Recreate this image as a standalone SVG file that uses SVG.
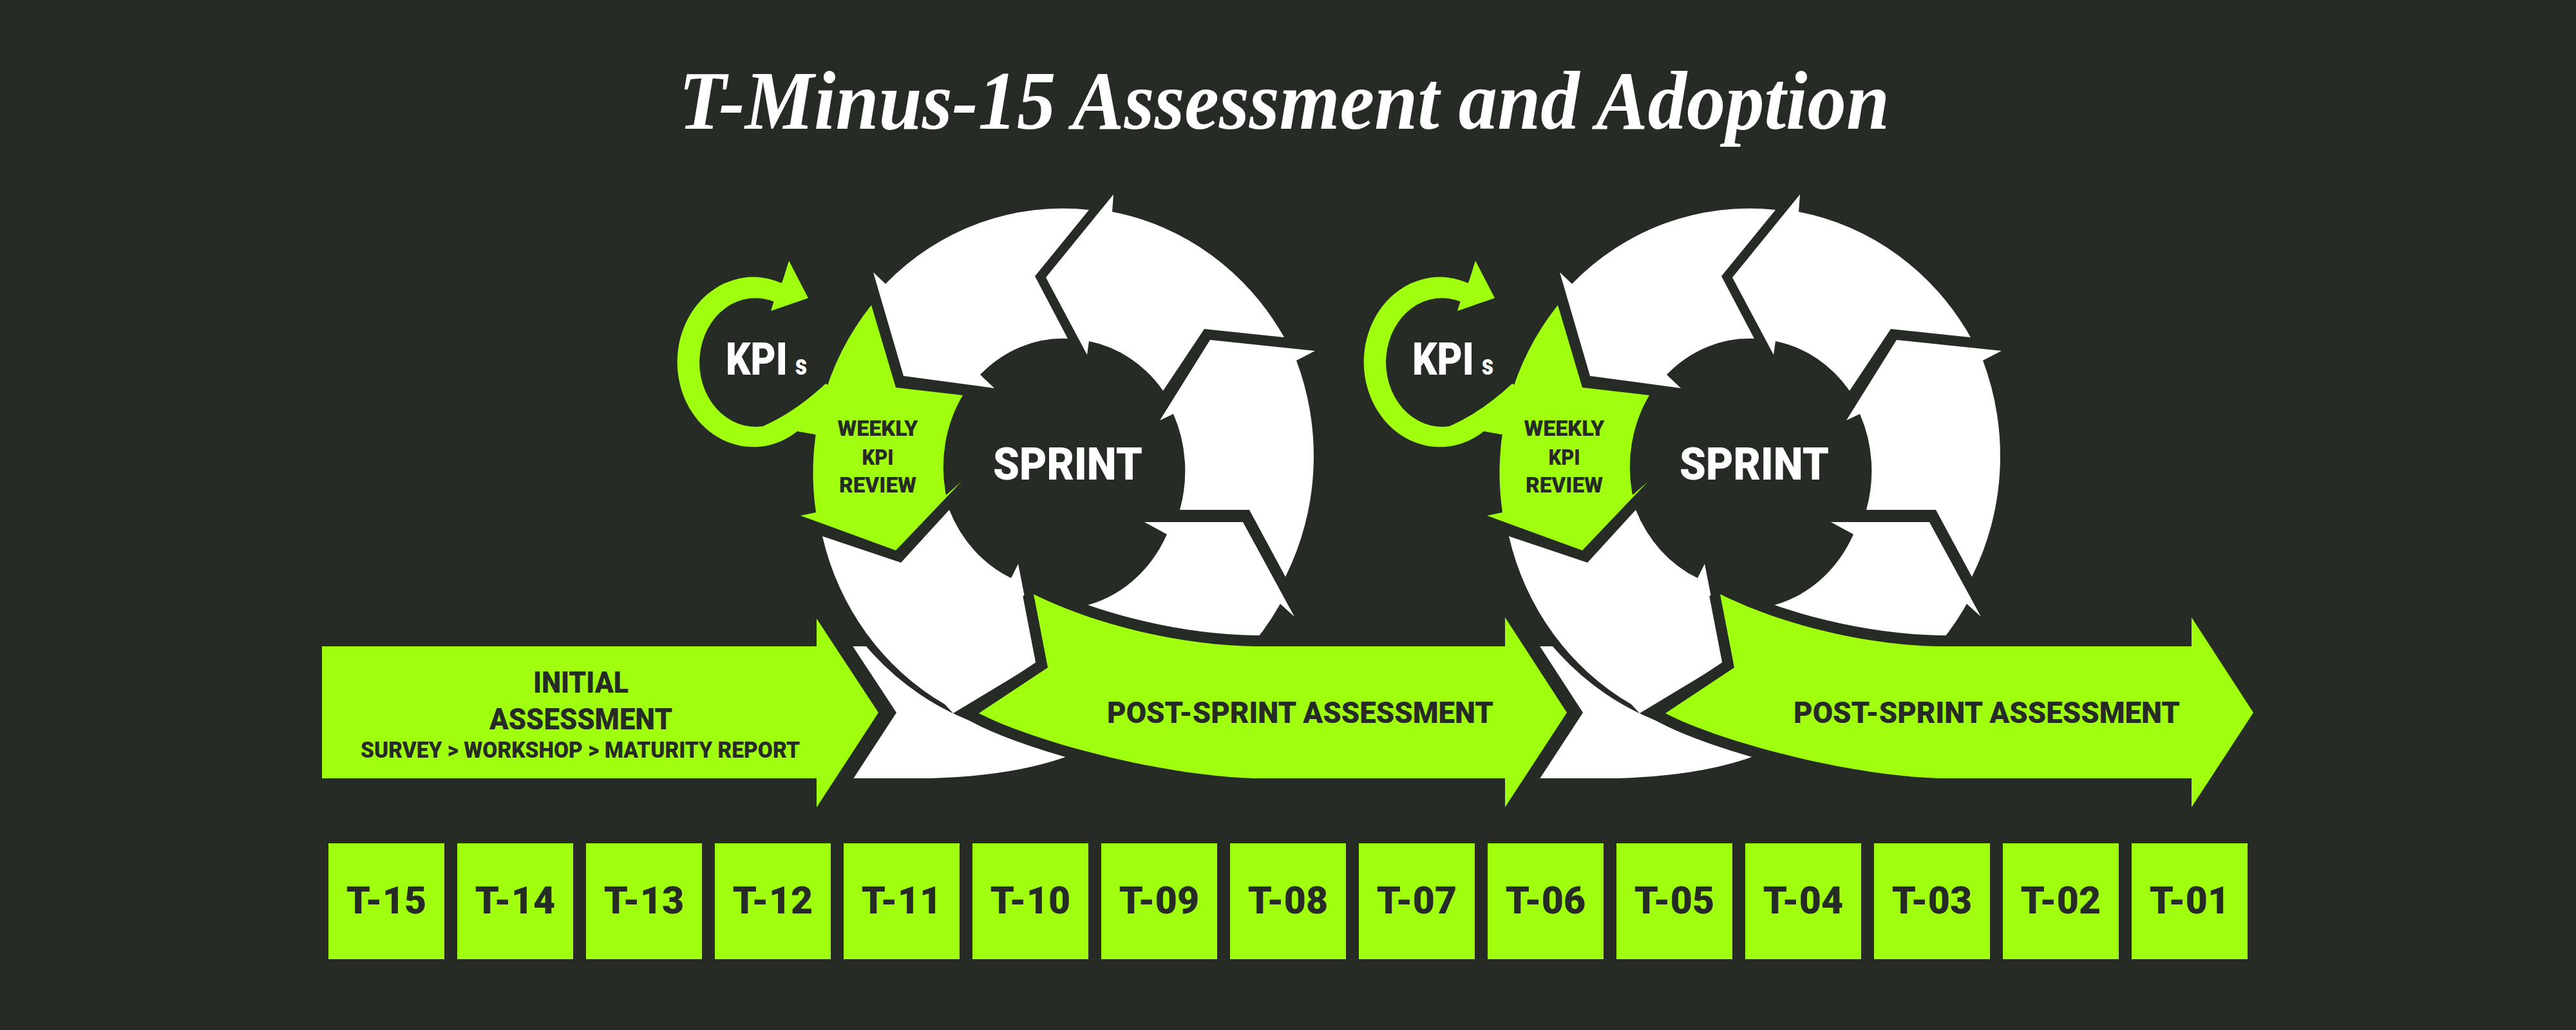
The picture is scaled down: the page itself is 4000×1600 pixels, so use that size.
<svg xmlns="http://www.w3.org/2000/svg" width="4000" height="1600" viewBox="0 0 4000 1600">
<defs>
<style>
.w{fill:#ffffff}
.g{fill:#a0ff0e}
.d{fill:#272b26}
.out{fill:#a0ff0e;stroke:#272b26;stroke-width:34;stroke-linejoin:miter;stroke-miterlimit:2;paint-order:stroke}
.f{font-family:Roboto,"Liberation Sans",Arial,sans-serif;font-weight:900}
.wt{fill:#ffffff}
.dt{fill:#272b26}
.title{font-family:"Liberation Serif","DejaVu Serif",serif;font-style:italic;font-weight:bold;fill:#ffffff}
.bx{font-size:59px;text-anchor:middle}
</style>
</defs>
<rect class="d" x="0" y="0" width="4000" height="1600"/>
<g id="title"><text class="title" x="1994" y="200" font-size="130" text-anchor="middle" textLength="1880" lengthAdjust="spacingAndGlyphs">T-Minus-15 Assessment and Adoption</text></g>

<g id="cycle-1">
 <path class="w" d="M1300,1004 L1345,1004 A408,424 0 0 0 1530,1128 L1700,1150 L1665,1172 Q1580,1205 1447,1209 L1300,1209 Z"/>
 <g id="sprint-1">
  <path class="w" d="M1994,524 L1870,511 L1806,607 A187,205 0 0 0 1691,530 L1688,551 L1624,431 L1729,302 L1727,329 A391,407 0 0 1 1994,524 Z"/>
  <path class="w" d="M1691,326 L1607,429 L1658,526 A187,205 0 0 0 1522,582 L1544,603 L1403,584 L1356,423 L1375,441 A391,407 0 0 1 1691,326 Z"/>
  <path class="w" d="M1277,833 L1399,874 L1474,792 A187,205 0 0 0 1570,898 L1581,876 L1611,1029 L1480,1108 L1467,1094 A391,407 0 0 1 1277,833 Z"/>
  <path class="w" d="M1681,942 A187,205 0 0 0 1812,830 L1777,811 L1930,811 L2010,958 L1988,938 A391,407 0 0 1 1653,1140 L1660,1000 Z"/>
  <path class="w" d="M1832,792 L1940,792 L1996,896 A391,407 0 0 0 2013,560 L2042,545 L1879,528 L1801,653 L1822,643 A187,205 0 0 1 1832,792 Z"/>
  <text class="f wt" x="1658" y="745" font-size="71" text-anchor="middle" textLength="232" lengthAdjust="spacingAndGlyphs">SPRINT</text>
 </g>
 <g id="weekly-kpi-review-1">
  <path class="g" d="M1353,474 L1391,602 L1495,614 A187,205 0 0 0 1469,769 L1493,748 L1391,855 L1243,801 L1267,796 A391,407 0 0 1 1353,474 Z"/>
  <text class="f dt" x="1363" y="677" font-size="34" text-anchor="middle" textLength="125" lengthAdjust="spacingAndGlyphs">WEEKLY</text>
  <text class="f dt" x="1363" y="722" font-size="34" text-anchor="middle" textLength="49" lengthAdjust="spacingAndGlyphs">KPI</text>
  <text class="f dt" x="1363" y="765" font-size="34" text-anchor="middle" textLength="120" lengthAdjust="spacingAndGlyphs">REVIEW</text>
 </g>
 <g id="kpis-1">
  <path class="g" d="M1214,440 A118,132 0 1 0 1238,670 L1272,676 L1290,600 L1282,596 Q1235,640 1185,662 A87,100 0 1 1 1203,469 Z"/>
  <polygon class="g" points="1225,405 1255,463 1197,483 1201,470 1216,434"/>
  <text class="f wt" x="1127" y="582" font-size="70" textLength="96" lengthAdjust="spacingAndGlyphs">KPI</text>
  <text class="f wt" x="1235" y="582" font-size="44" textLength="18" lengthAdjust="spacingAndGlyphs">s</text>
 </g>
</g>

<g id="cycle-2" transform="translate(1066,0)">
 <path class="w" d="M1300,1004 L1345,1004 A408,424 0 0 0 1530,1128 L1700,1150 L1665,1172 Q1580,1205 1447,1209 L1300,1209 Z"/>
 <g id="sprint-2">
  <path class="w" d="M1994,524 L1870,511 L1806,607 A187,205 0 0 0 1691,530 L1688,551 L1624,431 L1729,302 L1727,329 A391,407 0 0 1 1994,524 Z"/>
  <path class="w" d="M1691,326 L1607,429 L1658,526 A187,205 0 0 0 1522,582 L1544,603 L1403,584 L1356,423 L1375,441 A391,407 0 0 1 1691,326 Z"/>
  <path class="w" d="M1277,833 L1399,874 L1474,792 A187,205 0 0 0 1570,898 L1581,876 L1611,1029 L1480,1108 L1467,1094 A391,407 0 0 1 1277,833 Z"/>
  <path class="w" d="M1681,942 A187,205 0 0 0 1812,830 L1777,811 L1930,811 L2010,958 L1988,938 A391,407 0 0 1 1653,1140 L1660,1000 Z"/>
  <path class="w" d="M1832,792 L1940,792 L1996,896 A391,407 0 0 0 2013,560 L2042,545 L1879,528 L1801,653 L1822,643 A187,205 0 0 1 1832,792 Z"/>
  <text class="f wt" x="1658" y="745" font-size="71" text-anchor="middle" textLength="232" lengthAdjust="spacingAndGlyphs">SPRINT</text>
 </g>
 <g id="weekly-kpi-review-2">
  <path class="g" d="M1353,474 L1391,602 L1495,614 A187,205 0 0 0 1469,769 L1493,748 L1391,855 L1243,801 L1267,796 A391,407 0 0 1 1353,474 Z"/>
  <text class="f dt" x="1363" y="677" font-size="34" text-anchor="middle" textLength="125" lengthAdjust="spacingAndGlyphs">WEEKLY</text>
  <text class="f dt" x="1363" y="722" font-size="34" text-anchor="middle" textLength="49" lengthAdjust="spacingAndGlyphs">KPI</text>
  <text class="f dt" x="1363" y="765" font-size="34" text-anchor="middle" textLength="120" lengthAdjust="spacingAndGlyphs">REVIEW</text>
 </g>
 <g id="kpis-2">
  <path class="g" d="M1214,440 A118,132 0 1 0 1238,670 L1272,676 L1290,600 L1282,596 Q1235,640 1185,662 A87,100 0 1 1 1203,469 Z"/>
  <polygon class="g" points="1225,405 1255,463 1197,483 1201,470 1216,434"/>
  <text class="f wt" x="1127" y="582" font-size="70" textLength="96" lengthAdjust="spacingAndGlyphs">KPI</text>
  <text class="f wt" x="1235" y="582" font-size="44" textLength="18" lengthAdjust="spacingAndGlyphs">s</text>
 </g>
</g>

<g id="initial-assessment">
 <polygon class="d" points="1296,961 1392,1107 1296,1254 1200,1254 1200,961"/>
 <polygon class="g" points="500,1004 1268,1004 1268,961 1364,1107 1268,1254 1268,1209 500,1209"/>
 <text class="f dt" x="902" y="1076" font-size="47" text-anchor="middle" textLength="148" lengthAdjust="spacingAndGlyphs">INITIAL</text>
 <text class="f dt" x="902" y="1133" font-size="47" text-anchor="middle" textLength="284" lengthAdjust="spacingAndGlyphs">ASSESSMENT</text>
 <text class="f dt" x="901" y="1177" font-size="35" text-anchor="middle" textLength="682" lengthAdjust="spacingAndGlyphs">SURVEY &gt; WORKSHOP &gt; MATURITY REPORT</text>
</g>

<g id="post-sprint-1">
 <polygon class="d" points="2362,959 2458,1107 2362,1254 2300,1254 2300,959"/>
 <path class="out" d="M1605,923 L1627,1037 L1520,1108 C1600,1150 1800,1205 1947,1209 L2337,1209 L2337,1254 L2433,1107 L2337,959 L2337,1004 L1947,1004 C1830,1002 1700,970 1605,923 Z"/>
 <text class="f dt" x="2019" y="1123" font-size="46" text-anchor="middle" textLength="600" lengthAdjust="spacingAndGlyphs">POST-SPRINT ASSESSMENT</text>
</g>

<g id="post-sprint-2" transform="translate(1066,0)">
 <polygon class="d" points="2362,959 2458,1107 2362,1254 2300,1254 2300,959"/>
 <path class="out" d="M1605,923 L1627,1037 L1520,1108 C1600,1150 1800,1205 1947,1209 L2337,1209 L2337,1254 L2433,1107 L2337,959 L2337,1004 L1947,1004 C1830,1002 1700,970 1605,923 Z"/>
 <text class="f dt" x="2019" y="1123" font-size="46" text-anchor="middle" textLength="600" lengthAdjust="spacingAndGlyphs">POST-SPRINT ASSESSMENT</text>
</g>

<g id="timeline">
 <g id="box-t15"><rect class="g" x="510" y="1310" width="180" height="180"/><text class="f dt bx" x="600" y="1419">T-15</text></g>
 <g id="box-t14"><rect class="g" x="710" y="1310" width="180" height="180"/><text class="f dt bx" x="800" y="1419">T-14</text></g>
 <g id="box-t13"><rect class="g" x="910" y="1310" width="180" height="180"/><text class="f dt bx" x="1000" y="1419">T-13</text></g>
 <g id="box-t12"><rect class="g" x="1110" y="1310" width="180" height="180"/><text class="f dt bx" x="1200" y="1419">T-12</text></g>
 <g id="box-t11"><rect class="g" x="1310" y="1310" width="180" height="180"/><text class="f dt bx" x="1400" y="1419">T-11</text></g>
 <g id="box-t10"><rect class="g" x="1510" y="1310" width="180" height="180"/><text class="f dt bx" x="1600" y="1419">T-10</text></g>
 <g id="box-t09"><rect class="g" x="1710" y="1310" width="180" height="180"/><text class="f dt bx" x="1800" y="1419">T-09</text></g>
 <g id="box-t08"><rect class="g" x="1910" y="1310" width="180" height="180"/><text class="f dt bx" x="2000" y="1419">T-08</text></g>
 <g id="box-t07"><rect class="g" x="2110" y="1310" width="180" height="180"/><text class="f dt bx" x="2200" y="1419">T-07</text></g>
 <g id="box-t06"><rect class="g" x="2310" y="1310" width="180" height="180"/><text class="f dt bx" x="2400" y="1419">T-06</text></g>
 <g id="box-t05"><rect class="g" x="2510" y="1310" width="180" height="180"/><text class="f dt bx" x="2600" y="1419">T-05</text></g>
 <g id="box-t04"><rect class="g" x="2710" y="1310" width="180" height="180"/><text class="f dt bx" x="2800" y="1419">T-04</text></g>
 <g id="box-t03"><rect class="g" x="2910" y="1310" width="180" height="180"/><text class="f dt bx" x="3000" y="1419">T-03</text></g>
 <g id="box-t02"><rect class="g" x="3110" y="1310" width="180" height="180"/><text class="f dt bx" x="3200" y="1419">T-02</text></g>
 <g id="box-t01"><rect class="g" x="3310" y="1310" width="180" height="180"/><text class="f dt bx" x="3400" y="1419">T-01</text></g>
</g>
</svg>
